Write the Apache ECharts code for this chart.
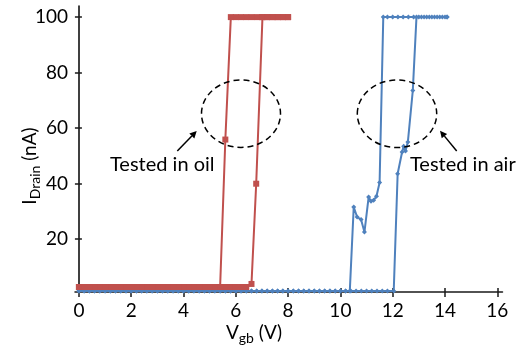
<!DOCTYPE html>
<html>
<head>
<meta charset="utf-8">
<script src="https://cdn.jsdelivr.net/npm/echarts@6/dist/echarts.min.js"></script>
<style>
html,body{margin:0;padding:0;background:#fff;}
#chart{width:519px;height:349px;}
</style>
</head>
<body>
<div id="chart"></div>
<script>
// ---- Data ----
const xTickValues = [0, 2, 4, 6, 8, 10, 12, 14, 16];
const yTickValues = [20, 40, 60, 80, 100];

// Tested in oil: up-sweep then down-sweep (Vgb in V, I_Drain in nA)
const oilUpV = [0, 0.2, 0.4, 0.6, 0.8, 1.0, 1.2, 1.4, 1.6, 1.8, 2.0, 2.2, 2.4, 2.6, 2.8, 3.0, 3.2, 3.4, 3.6, 3.8, 4.0, 4.2, 4.4, 4.6, 4.8, 5.0, 5.2, 5.4, 5.6, 5.8, 6.0, 6.2, 6.4, 6.6, 6.78, 7.02, 7.2, 7.4, 7.6, 7.8, 8.0];
const oilUpI = [2.8, 2.8, 2.8, 2.8, 2.8, 2.8, 2.8, 2.8, 2.8, 2.8, 2.8, 2.8, 2.8, 2.8, 2.8, 2.8, 2.8, 2.8, 2.8, 2.8, 2.8, 2.8, 2.8, 2.8, 2.8, 2.8, 2.8, 2.8, 2.8, 2.8, 2.8, 2.8, 2.8, 3.9, 40, 100, 100, 100, 100, 100, 100];
const oilDownV = [8.0, 7.8, 7.6, 7.4, 7.2, 7.0, 6.8, 6.6, 6.4, 6.2, 6.0, 5.81, 5.6, 5.4, 5.2, 5.0, 4.8, 4.6, 4.4, 4.2, 4.0, 3.8, 3.6, 3.4, 3.2, 3.0, 2.8, 2.6, 2.4, 2.2, 2.0, 1.8, 1.6, 1.4, 1.2, 1.0, 0.8, 0.6, 0.4, 0.2, 0];
const oilDownI = [100, 100, 100, 100, 100, 100, 100, 100, 100, 100, 100, 100, 55.9, 2.8, 2.8, 2.8, 2.8, 2.8, 2.8, 2.8, 2.8, 2.8, 2.8, 2.8, 2.8, 2.8, 2.8, 2.8, 2.8, 2.8, 2.8, 2.8, 2.8, 2.8, 2.8, 2.8, 2.8, 2.8, 2.8, 2.8, 2.8];

// Tested in air
const airUpV = [0, 0.2, 0.4, 0.6, 0.8, 1.0, 1.2, 1.4, 1.6, 1.8, 2.0, 2.2, 2.4, 2.6, 2.8, 3.0, 3.2, 3.4, 3.6, 3.8, 4.0, 4.2, 4.4, 4.6, 4.8, 5.0, 5.2, 5.4, 5.6, 5.8, 6.0, 6.2, 6.4, 6.6, 6.8, 7.0, 7.2, 7.4, 7.6, 7.8, 8.0, 8.2, 8.4, 8.6, 8.8, 9.0, 9.2, 9.4, 9.6, 9.8, 10.0, 10.2, 10.36, 10.51, 10.64, 10.79, 10.92, 11.08, 11.17, 11.27, 11.38, 11.5, 11.64, 11.8, 12.0, 12.2, 12.4, 12.6, 12.8, 13.0, 13.2, 13.4, 13.6, 13.8, 14.0, 14.08];
const airUpI = [1.4, 1.4, 1.4, 1.4, 1.4, 1.4, 1.4, 1.4, 1.4, 1.4, 1.4, 1.4, 1.4, 1.4, 1.4, 1.4, 1.4, 1.4, 1.4, 1.4, 1.4, 1.4, 1.4, 1.4, 1.4, 1.4, 1.4, 1.4, 1.4, 1.4, 1.4, 1.4, 1.4, 1.4, 1.4, 1.4, 1.4, 1.4, 1.4, 1.4, 1.4, 1.4, 1.4, 1.4, 1.4, 1.4, 1.4, 1.4, 1.4, 1.4, 1.4, 1.4, 1.4, 31.6, 28, 27.1, 22.6, 35.2, 33.7, 34, 35.5, 40.4, 100, 100, 100, 100, 100, 100, 100, 100, 100, 100, 100, 100, 100, 100];
const airDownV = [14.08, 13.9, 13.7, 13.5, 13.3, 13.1, 12.91, 12.77, 12.58, 12.49, 12.42, 12.36, 12.19, 12.04, 11.8, 11.6, 11.4, 11.2, 11.0, 10.8, 10.6, 10.4, 10.2, 10.0, 9.8, 9.6, 9.4, 9.2, 9.0, 8.8, 8.6, 8.4, 8.2, 8.0, 7.8, 7.6, 7.4, 7.2, 7.0, 6.8, 6.6, 6.4, 6.2, 6.0, 5.8, 5.6, 5.4, 5.2, 5.0, 4.8, 4.6, 4.4, 4.2, 4.0, 3.8, 3.6, 3.4, 3.2, 3.0, 2.8, 2.6, 2.4, 2.2, 2.0, 1.8, 1.6, 1.4, 1.2, 1.0, 0.8, 0.6, 0.4, 0.2, 0];
const airDownI = [100, 100, 100, 100, 100, 100, 100, 73.6, 55, 51.8, 53.5, 51.4, 43.6, 1.4, 1.4, 1.4, 1.4, 1.4, 1.4, 1.4, 1.4, 1.4, 1.4, 1.4, 1.4, 1.4, 1.4, 1.4, 1.4, 1.4, 1.4, 1.4, 1.4, 1.4, 1.4, 1.4, 1.4, 1.4, 1.4, 1.4, 1.4, 1.4, 1.4, 1.4, 1.4, 1.4, 1.4, 1.4, 1.4, 1.4, 1.4, 1.4, 1.4, 1.4, 1.4, 1.4, 1.4, 1.4, 1.4, 1.4, 1.4, 1.4, 1.4, 1.4, 1.4, 1.4, 1.4, 1.4, 1.4, 1.4, 1.4, 1.4, 1.4, 1.4];

const annotationLabels = ['Tested in oil', 'Tested in air'];

// ---- Build ----
function pairs(vs, is) { return vs.map((v, k) => [v, is[k]]); }
const oilData = pairs(oilUpV, oilUpI).concat(pairs(oilDownV, oilDownI));
const airData = pairs(airUpV, airUpI).concat(pairs(airDownV, airDownI));

const FONT = 'Lato';
const RED = '#C0504D';
const BLUE = '#4F81BD';
const AXIS = '#1a1a1a';

const chart = echarts.init(document.getElementById('chart'), null, {renderer: 'canvas'});

function arrow(tail, head) {
  const dx = head[0] - tail[0], dy = head[1] - tail[1];
  const L = Math.sqrt(dx * dx + dy * dy);
  const ux = dx / L, uy = dy / L, nx = -uy, ny = ux;
  const hl = 7, hw = 3.5;
  const bx = head[0] - ux * hl, by = head[1] - uy * hl;
  return [
    {type: 'line', shape: {x1: tail[0], y1: tail[1], x2: bx, y2: by}, style: {stroke: '#000', lineWidth: 1.5}},
    {type: 'polygon', shape: {points: [head, [bx + nx * hw, by + ny * hw], [bx - nx * hw, by - ny * hw]]}, style: {fill: '#000'}}
  ];
}

const richStyles = {
  m: {fontFamily: FONT, fontSize: 19, lineHeight: 24, verticalAlign: 'middle', fill: '#000'},
  s: {fontFamily: FONT, fontSize: 14, lineHeight: 12, verticalAlign: 'bottom', fill: '#000'}
};

const graphics = [
  {type: 'ellipse', shape: {cx: 241, cy: 113.7, rx: 39.5, ry: 33.7}, style: {fill: 'none', stroke: '#000', lineWidth: 1.5, lineDash: [6, 4]}, z: 100},
  {type: 'ellipse', shape: {cx: 397, cy: 113.8, rx: 39.7, ry: 33.8}, style: {fill: 'none', stroke: '#000', lineWidth: 1.5, lineDash: [6, 4]}, z: 100},
  ...arrow([177.3, 151], [196.7, 131]),
  ...arrow([456.7, 151], [440, 130.7]),
  {type: 'text', x: 110, y: 164.5, style: {text: annotationLabels[0], fontFamily: FONT, fontSize: 20, fill: '#000', textAlign: 'left', textVerticalAlign: 'middle'}, z: 100},
  {type: 'text', x: 410, y: 164.5, style: {text: annotationLabels[1], fontFamily: FONT, fontSize: 20, fill: '#000', textAlign: 'left', textVerticalAlign: 'middle'}, z: 100},
  {type: 'text', x: 254, y: 333, style: {text: '{m|V}{s|gb}{m| (V)}', rich: richStyles, textAlign: 'center', textVerticalAlign: 'middle'}, z: 100},
  {type: 'text', x: 30, y: 166, rotation: Math.PI / 2, style: {text: '{m|I}{s|Drain}{m| (nA)}', rich: richStyles, textAlign: 'center', textVerticalAlign: 'middle'}, z: 100}
];

const labelStyle = {fontFamily: FONT, fontSize: 19, color: '#000'};

const option = {
  animation: false,
  backgroundColor: '#fff',
  grid: {left: 75, right: 16.5, top: 6, bottom: 57, containLabel: false},
  xAxis: [
    {
      type: 'value', min: -0.15, max: 16.2,
      splitLine: {show: false},
      axisLine: {onZero: true, lineStyle: {color: AXIS, width: 1.5}},
      axisTick: {customValues: xTickValues, length: 5, lineStyle: {color: AXIS, width: 1.5}},
      axisLabel: Object.assign({customValues: xTickValues, margin: 9}, labelStyle)
    },
    {
      type: 'value', min: -0.15, max: 16.2, position: 'bottom',
      splitLine: {show: false},
      axisLine: {show: false, onZero: true},
      axisTick: {customValues: xTickValues, inside: true, length: 4, lineStyle: {color: AXIS, width: 1.5}},
      axisLabel: {show: false}
    }
  ],
  yAxis: [
    {
      type: 'value', min: 1, max: 104,
      splitLine: {show: false},
      axisLine: {onZero: true, lineStyle: {color: '#000', width: 1.5}},
      axisTick: {customValues: yTickValues, length: 4, lineStyle: {color: AXIS, width: 1.5}},
      axisLabel: Object.assign({customValues: yTickValues, margin: 7}, labelStyle)
    },
    {
      type: 'value', min: 1, max: 104, position: 'left',
      splitLine: {show: false},
      axisLine: {show: false, onZero: true},
      axisTick: {customValues: yTickValues, inside: true, length: 3, lineStyle: {color: AXIS, width: 1.5}},
      axisLabel: {show: false}
    }
  ],
  series: [
    {
      name: 'air', type: 'line', xAxisIndex: 0, yAxisIndex: 0, data: airData,
      symbol: 'diamond', symbolSize: 5, showSymbol: true,
      lineStyle: {color: BLUE, width: 2}, itemStyle: {color: BLUE},
      z: 2
    },
    {
      name: 'oil', type: 'line', xAxisIndex: 0, yAxisIndex: 0, data: oilData,
      symbol: 'rect', symbolSize: 6, showSymbol: true,
      lineStyle: {color: RED, width: 2}, itemStyle: {color: RED},
      z: 3
    }
  ],
  graphic: graphics
};
chart.setOption(option);
</script>
</body>
</html>
